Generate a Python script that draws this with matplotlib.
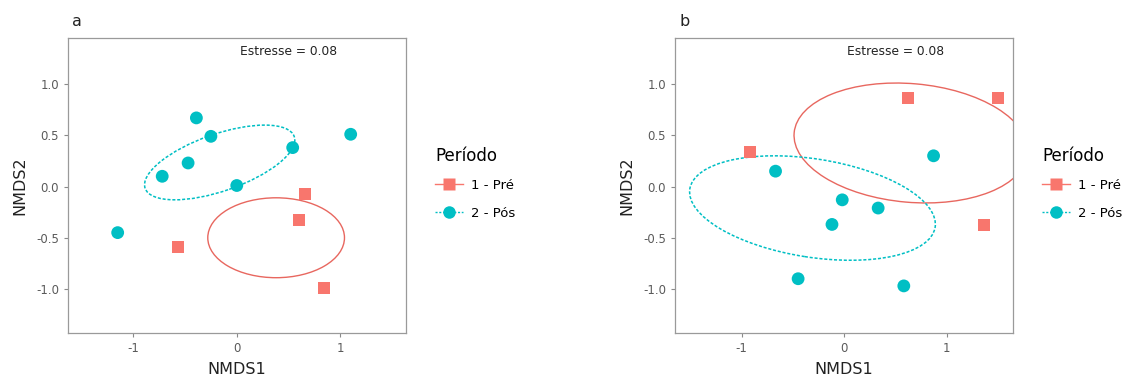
import matplotlib
matplotlib.use("Agg")
import matplotlib.pyplot as plt
from matplotlib.patches import Ellipse
from matplotlib.lines import Line2D

# ---- data ----
periods = ["1 - Pré", "2 - Pós"]
colors = ["#F8766D", "#00BFC4"]

a_pre_x = [0.66, 0.60, -0.57, 0.845]
a_pre_y = [-0.07, -0.33, -0.59, -0.99]
a_pos_x = [-0.39, -0.25, -0.47, -0.72, 0.0, 0.54, 1.10, -1.15]
a_pos_y = [0.67, 0.49, 0.23, 0.10, 0.01, 0.38, 0.51, -0.45]

b_pre_x = [0.62, 1.50, -0.92, 1.36]
b_pre_y = [0.86, 0.86, 0.34, -0.38]
b_pos_x = [-0.67, 0.87, -0.02, 0.33, -0.12, -0.45, 0.58]
b_pos_y = [0.15, 0.30, -0.13, -0.21, -0.37, -0.90, -0.97]

# ellipse parameters: center x, center y, semi-major, semi-minor, angle (deg)
a_pre_ell = [0.38, -0.50, 0.66, 0.39, 0.0]
a_pos_ell = [-0.165, 0.235, 0.763, 0.278, 19.4]
b_pre_ell = [0.65, 0.425, 1.143, 0.579, -5.0]
b_pos_ell = [-0.31, -0.21, 1.21, 0.48, -8.9]

stress_label = "Estresse = 0.08"
panel_labels = ["a", "b"]
x_ticks = [-1, 0, 1]
y_ticks = [-1.0, -0.5, 0.0, 0.5, 1.0]

plt.rcParams['font.family'] = ['DejaVu Sans']
fig = plt.figure(figsize=(11.31, 3.83), dpi=100)

panels = [
    (0.0601, a_pre_x, a_pre_y, a_pos_x, a_pos_y, a_pre_ell, a_pos_ell, (-1.63, 1.63)),
    (0.5968, b_pre_x, b_pre_y, b_pos_x, b_pos_y, b_pre_ell, b_pos_ell, (-1.65, 1.64)),
]

for i, (left, prx, pry, pox, poy, pre_e, pos_e, xl) in enumerate(panels):
    ax = fig.add_axes([left, 0.1305, 0.2985, 0.7703])
    ax.set_xlim(*xl)
    ax.set_ylim(-1.43, 1.45)
    # ellipses
    e1 = Ellipse((pre_e[0], pre_e[1]), 2 * pre_e[2], 2 * pre_e[3], angle=pre_e[4],
                 fill=False, edgecolor="#E8675F", lw=1.0, linestyle='-', zorder=2)
    e2 = Ellipse((pos_e[0], pos_e[1]), 2 * pos_e[2], 2 * pos_e[3], angle=pos_e[4],
                 fill=False, edgecolor=colors[1], lw=1.1, linestyle=(0, (2.0, 1.2)), zorder=2)
    ax.add_patch(e1)
    ax.add_patch(e2)
    ax.scatter(prx, pry, marker='s', s=75, color=colors[0], edgecolors='none', zorder=3)
    ax.scatter(pox, poy, marker='o', s=85, color=colors[1], edgecolors='none', zorder=3)
    ax.set_xticks(x_ticks)
    ax.set_xticklabels([str(t) for t in x_ticks])
    ax.set_yticks(y_ticks)
    ax.set_yticklabels([f"{t:.1f}" for t in y_ticks])
    ax.tick_params(colors="#8a8a8a", labelcolor="#5a5a5a", labelsize=8.5, length=3, width=0.8)
    for sp in ax.spines.values():
        sp.set_color("#9a9a9a")
        sp.set_linewidth(0.9)
    ax.set_xlabel("NMDS1", fontsize=11.5, color="#222222", labelpad=5)
    ax.set_ylabel("NMDS2", fontsize=11.5, color="#222222", labelpad=6)
    ax.text(0.5, 1.32, stress_label, fontsize=8.8, ha='center', va='center', color="#222222")
    fig.text(left + 0.004, 0.945, panel_labels[i], fontsize=11.5, ha='left', va='center', color="#222222")

    handles = [
        Line2D([0], [0], color=colors[0], lw=1.0, linestyle='-', marker='s', markersize=8.5,
               markeredgecolor='none'),
        Line2D([0], [0], color=colors[1], lw=1.0, linestyle=(0, (1.5, 1.2)), marker='o', markersize=9,
               markeredgecolor='none'),
    ]
    leg = ax.legend(handles, periods, title="Período", loc='upper left',
                    bbox_to_anchor=(1.087, 0.63), frameon=False, fontsize=9.5,
                    title_fontsize=12, handlelength=2.1, handletextpad=0.6,
                    labelspacing=1.1, borderaxespad=0, borderpad=0)
    leg._legend_box.align = "left"
    leg._legend_box.sep = 10

fig.savefig("out.png", dpi=100)
